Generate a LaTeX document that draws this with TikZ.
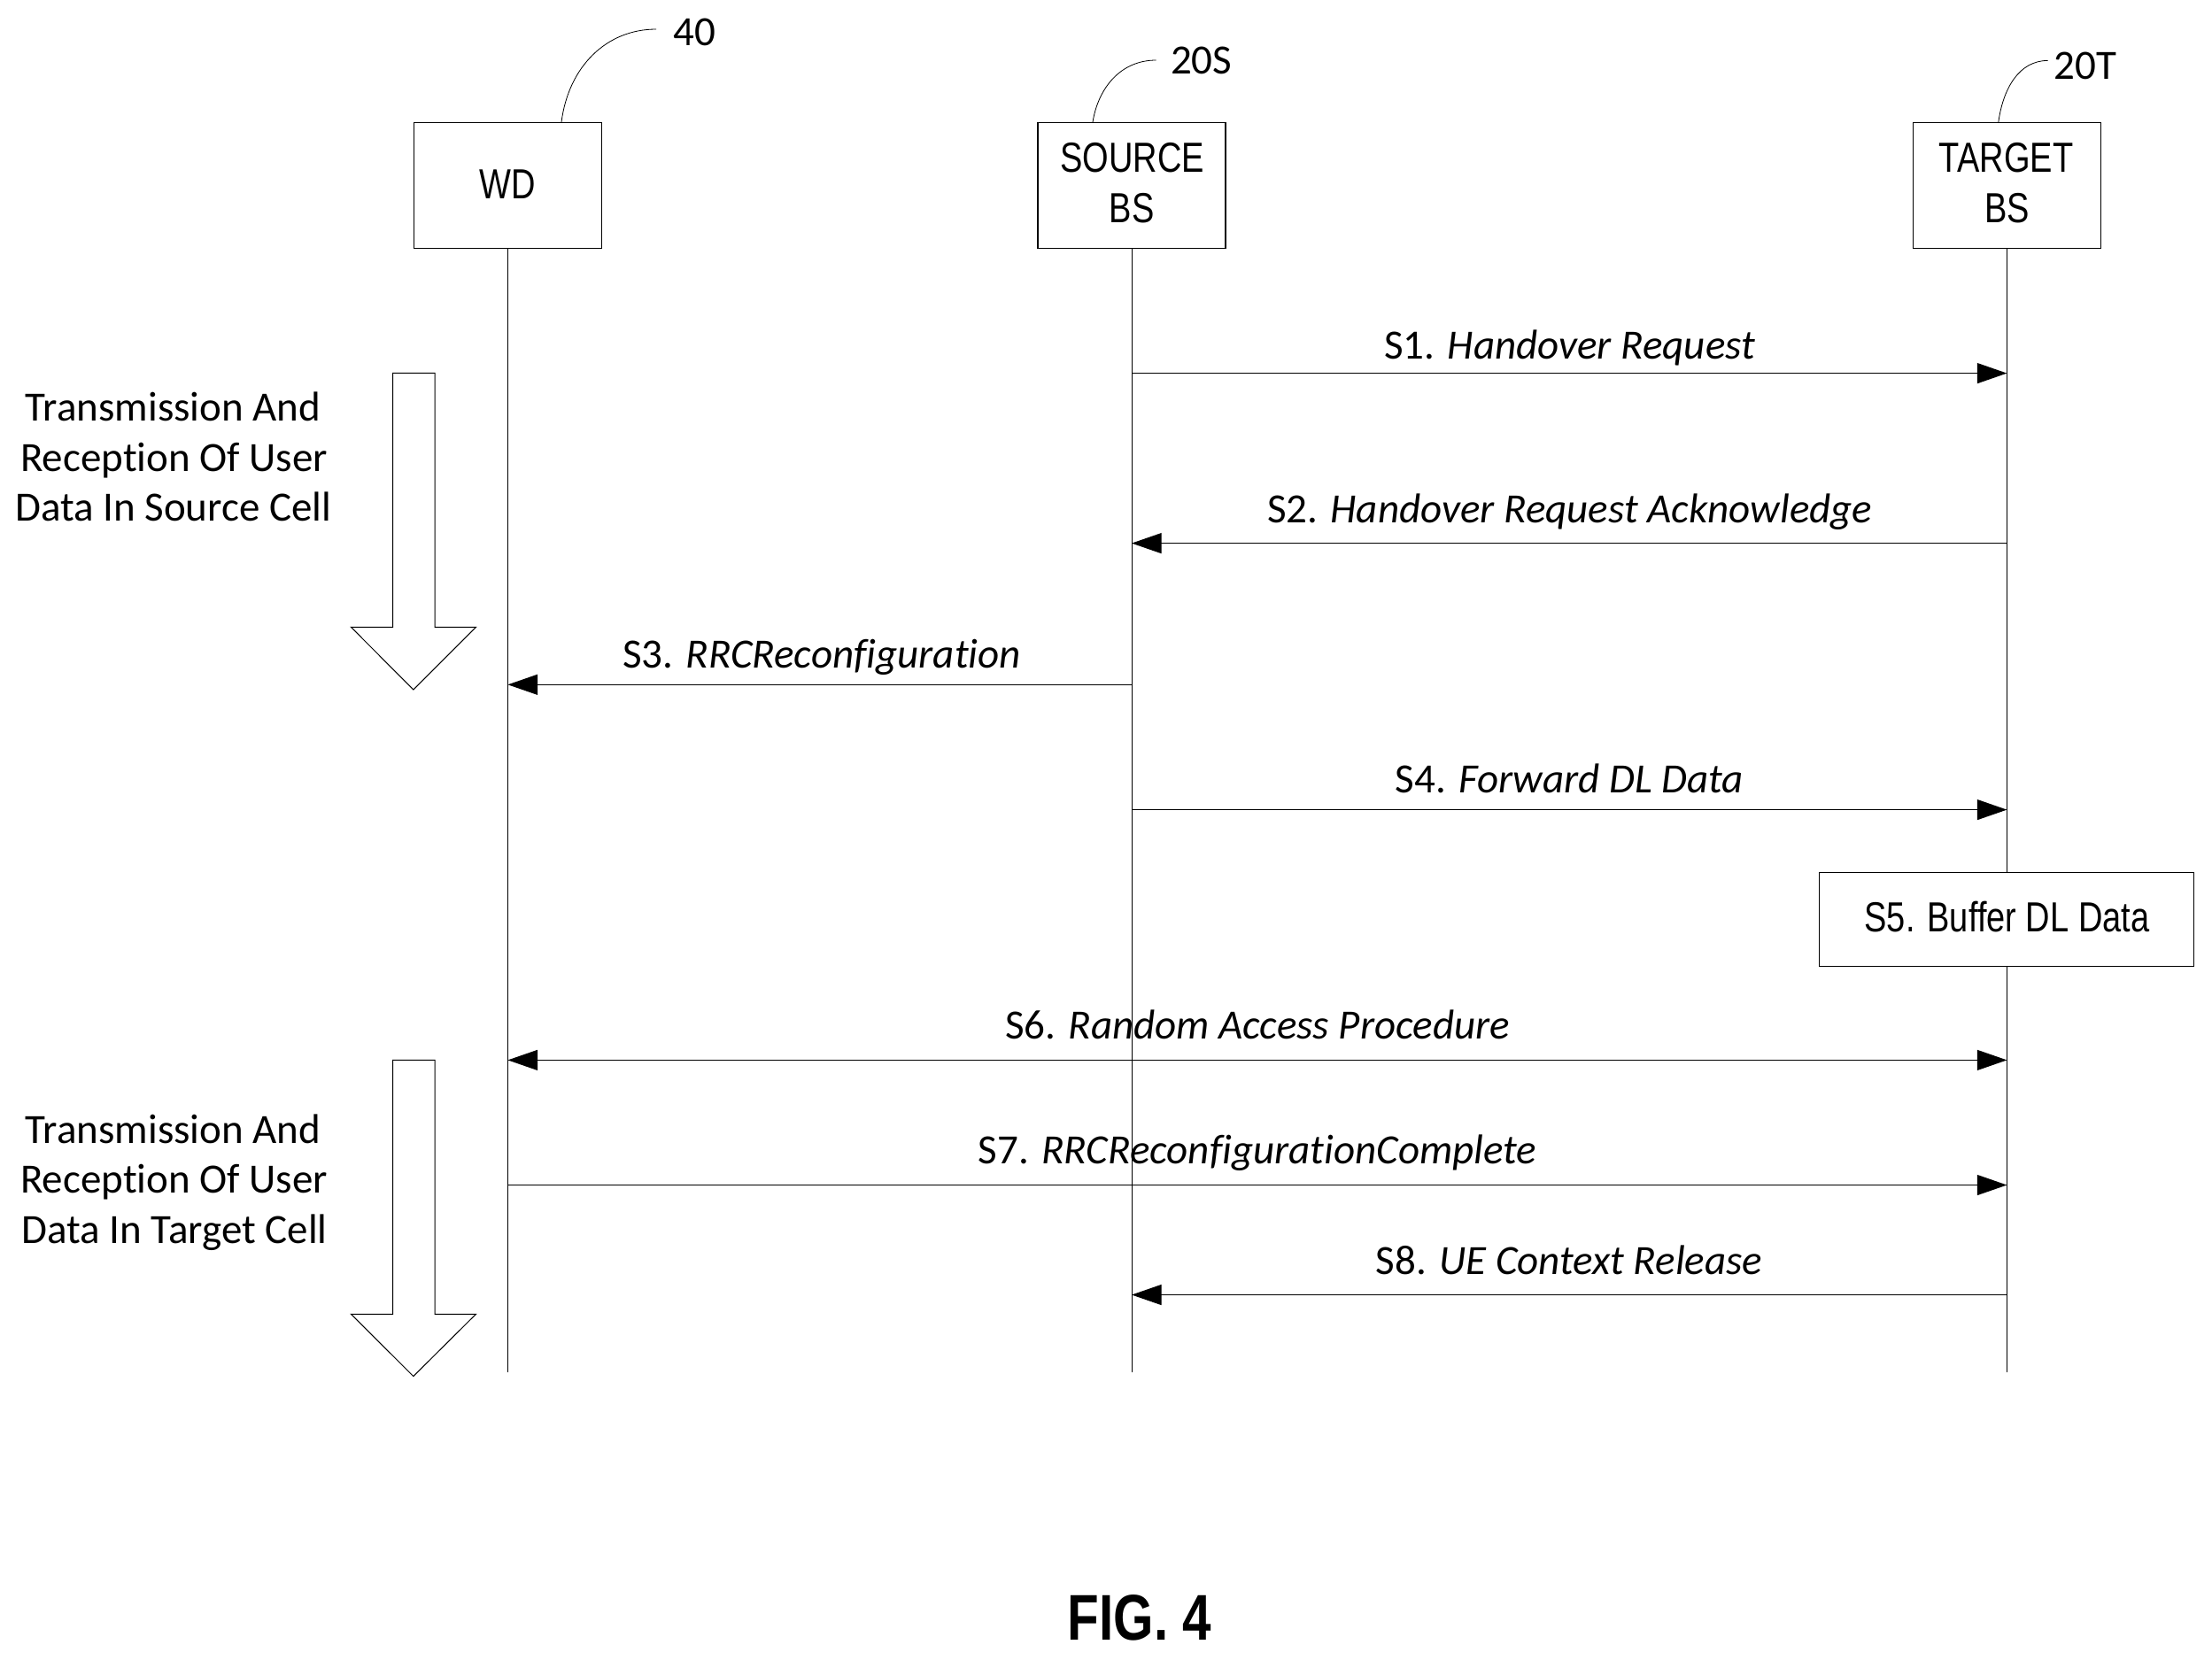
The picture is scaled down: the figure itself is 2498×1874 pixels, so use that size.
\documentclass[tikz,border=0pt]{standalone}
\usepackage{fontspec}
\usetikzlibrary{arrows.meta}
\setmainfont[Ligatures=NoCommon]{Carlito}
\newfontfamily\narrowfont[FakeStretch=0.8]{Liberation Sans}
\begin{document}
\begin{tikzpicture}[x=0.5pt,y=-0.5pt,
  line/.style={line width=0.6pt,black},
  life/.style={line width=0.5pt,black},
  actor/.style={draw,line width=0.6pt,fill=white,minimum width=106pt,minimum height=71pt,inner sep=0pt},
  boxtext/.style={inner sep=0pt,anchor=base,font=\narrowfont\fontsize{23.75}{28}\selectfont},
  lab/.style={inner sep=0pt,anchor=base,font=\fontsize{23.5}{28}\selectfont},
  msg/.style={line,-{Triangle[length=16.8pt,width=11.5pt]}},
  msgboth/.style={line,{Triangle[length=16.8pt,width=11.5pt]}-{Triangle[length=16.8pt,width=11.5pt]}},
  block/.style={line width=0.5pt,draw,fill=white,line join=miter}]
\useasboundingbox (0,0) rectangle (2498,1874);
\fill[white] (0,0) rectangle (2498,1874);
% actors
\node[actor] (wd) at (573.5,209.3) {};
\node[actor] (src) at (1278,209.3) {};
\node[actor] (tgt) at (2266.4,209.3) {};
\node[boxtext] (wdt) at (573.5,224) {WD};
\node[boxtext] (srct1) at (1278.5,194) {SOURCE};
\node[boxtext] (srct2) at (1278,251.7) {BS};
\node[boxtext] (tgtt1) at (2265.6,194) {TARGET};
\node[boxtext] (tgtt2) at (2266.4,251.7) {BS};
% lifeline ends
\coordinate (wdend) at (573.5,1550);
\coordinate (srcend) at (1278,1550);
\coordinate (tgtend) at (2266.4,1550);
\draw[life] (wd.south) -- (wdend);
\draw[life] (src.south) -- (srcend);
\draw[life] (tgt.south) -- (tgtend);
% reference labels
\node[lab] (r40) at (784,51) {40};
\node[lab] (r20s) at (1356.6,83) {20S};
\node[lab] (r20t) at (2355,89) {20T};
\coordinate (l40) at (741,33);
\coordinate (l20s) at (1305.6,68);
\coordinate (l20t) at (2312.6,68.4);
\coordinate (a40) at (634,138);
\coordinate (a20s) at (1234,138);
\coordinate (a20t) at (2256.8,138);
\draw[line width=0.4pt] (a40) .. controls (642,75) and (685,33) .. (l40);
\draw[line width=0.4pt] (a20s) .. controls (1240,100) and (1265,68) .. (l20s);
\draw[line width=0.4pt] (a20t) .. controls (2262,100) and (2280,68.4) .. (l20t);
% messages
\coordinate (s1a) at (1278,421.6);    \coordinate (s1b) at (2266.4,421.6);
\coordinate (s2a) at (2266.4,613.6);  \coordinate (s2b) at (1278,613.6);
\coordinate (s3a) at (1278,773.3);    \coordinate (s3b) at (573.5,773.3);
\coordinate (s4a) at (1278,914.6);    \coordinate (s4b) at (2266.4,914.6);
\coordinate (s6a) at (573.5,1197.4);  \coordinate (s6b) at (2266.4,1197.4);
\coordinate (s7a) at (573.5,1338.5);  \coordinate (s7b) at (2266.4,1338.5);
\coordinate (s8a) at (2266.4,1462.5); \coordinate (s8b) at (1278,1462.5);
\draw[msg] (s1a) -- (s1b);
\draw[msg] (s2a) -- (s2b);
\draw[msg] (s3a) -- (s3b);
\draw[msg] (s4a) -- (s4b);
\draw[msgboth] (s6a) -- (s6b);
\draw[msg] (s7a) -- (s7b);
\draw[msg] (s8a) -- (s8b);
\node[lab] (t1) at (1772.7,405) {S1. \textit{Handover Request}};
\node[lab] (t2) at (1772.7,590.2) {S2. \textit{Handover Request Acknowledge}};
\node[lab] (t3) at (928,754.2) {S3. \textit{RRCReconfiguration}};
\node[lab] (t4) at (1772.5,895.2) {S4. \textit{Forward DL Data}};
\node[lab] (t6) at (1420,1173.2) {S6. \textit{Random Access Procedure}};
\node[lab] (t7) at (1420,1314.2) {S7. \textit{RRCReconfigurationComplete}};
\node[lab] (t8) at (1772,1439.3) {S8. \textit{UE Context Release}};
% S5 box
\node[draw,line width=0.6pt,fill=white,minimum width=211.7pt,minimum height=53pt,inner sep=0pt] (s5) at (2266,1038.3) {};
\node[boxtext] (s5t) at (2266.4,1052.7) {S5. Buffer DL Data};
% block arrows
\draw[block] (443.5,421.3) -- (491,421.3) -- (491,708.3) -- (537.5,708.3) -- (466.8,779) -- (396.4,708.3) -- (443.5,708.3) -- cycle;
\draw[block] (443.5,1197.3) -- (491,1197.3) -- (491,1484.3) -- (537.5,1484.3) -- (466.8,1554.5) -- (396.4,1484.3) -- (443.5,1484.3) -- cycle;
\node[lab] (a1) at (195.5,475.5) {Transmission And};
\node[lab] (a2) at (196.7,532.2) {Reception Of User};
\node[lab] (a3) at (195.7,588.2) {Data In Source Cell};
\node[lab] (b1) at (195.5,1291.5) {Transmission And};
\node[lab] (b2) at (196.7,1347.5) {Reception Of User};
\node[lab] (b3) at (197,1404.2) {Data In Target Cell};
% caption
\node[inner sep=0pt,anchor=base,font=\narrowfont\bfseries\fontsize{36.5}{41}\selectfont] (fig) at (1287,1852.7) {FIG. 4};
\end{tikzpicture}
\end{document}
